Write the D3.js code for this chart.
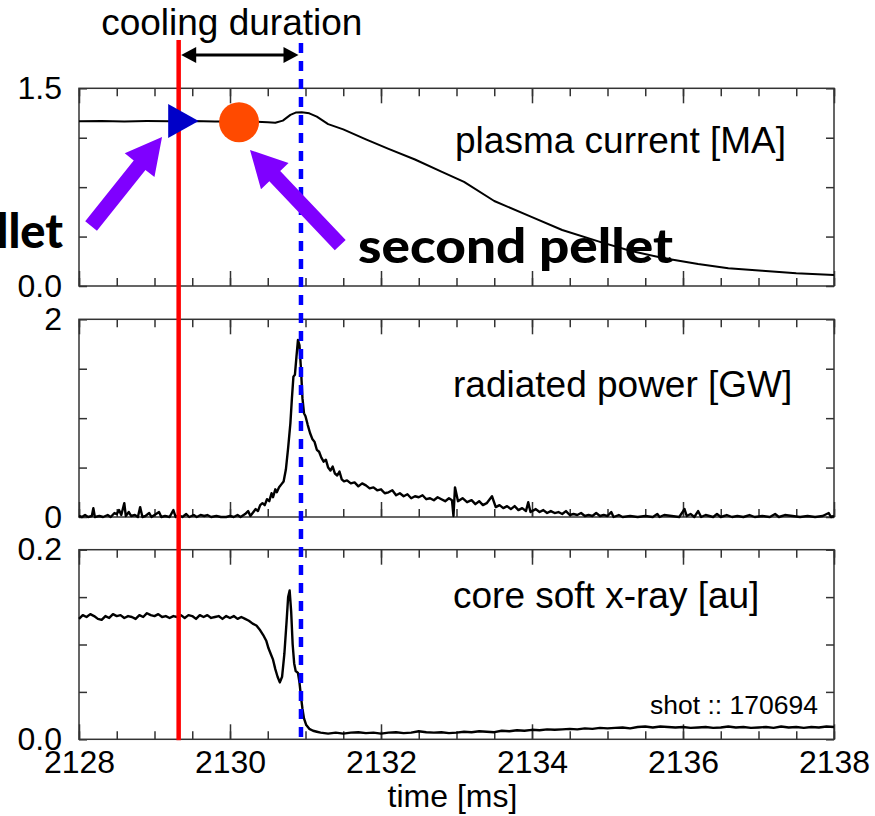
<!DOCTYPE html>
<html>
<head>
<meta charset="utf-8">
<script src="https://d3js.org/d3.v7.min.js"></script>
<style>
  body { margin: 0; background: #fff; }
  svg { display: block; }
</style>
</head>
<body>
<div id="my_dataviz"></div>
<script>

// time axis (ms)
var timeDomain = [2128, 2138];
var timeTicks = [2128, 2130, 2132, 2134, 2136, 2138];

// plasma current [MA], [time, value]
var plasmaCurrent = [
  [2128.0, 1.250], [2128.3, 1.252], [2128.6, 1.249], [2128.9, 1.251], [2129.2, 1.250],
  [2129.5, 1.252], [2129.8, 1.249], [2130.1, 1.248], [2130.35, 1.246], [2130.5, 1.242],
  [2130.6, 1.238], [2130.7, 1.255], [2130.8, 1.298], [2130.87, 1.316], [2130.95, 1.318],
  [2131.05, 1.310], [2131.15, 1.285], [2131.3, 1.228], [2131.5, 1.188], [2131.8, 1.112],
  [2132.1, 1.040], [2132.45, 0.960], [2132.8, 0.868], [2133.1, 0.790], [2133.5, 0.645],
  [2134.0, 0.522], [2134.4, 0.425], [2134.9, 0.335], [2135.3, 0.268], [2135.75, 0.210],
  [2136.2, 0.167], [2136.6, 0.134], [2137.05, 0.116], [2137.5, 0.097], [2138.0, 0.083]
];

// radiated power [GW]
var radiatedPower = [
  [2128.00, 0.01], [2128.04, 0.00], [2128.08, 0.02], [2128.12, 0.00], [2128.17, 0.01], [2128.19, 0.09],
  [2128.21, 0.00], [2128.27, 0.01], [2128.32, 0.00], [2128.38, 0.02], [2128.42, 0.00], [2128.47, 0.04],
  [2128.50, 0.03], [2128.53, 0.07], [2128.56, 0.02], [2128.60, 0.14], [2128.62, 0.01], [2128.66, 0.05],
  [2128.69, 0.01], [2128.74, 0.02], [2128.78, 0.00], [2128.81, 0.10], [2128.84, 0.00], [2128.88, 0.01],
  [2128.93, 0.04], [2128.96, 0.00], [2129.02, 0.03], [2129.06, 0.05], [2129.09, 0.00], [2129.14, 0.01],
  [2129.20, 0.00], [2129.25, 0.07], [2129.28, 0.00], [2129.32, 0.02], [2129.37, 0.00], [2129.42, 0.03],
  [2129.46, 0.00], [2129.52, 0.02], [2129.56, 0.00], [2129.61, 0.02], [2129.66, 0.01], [2129.70, 0.02],
  [2129.75, 0.00], [2129.82, 0.01], [2129.88, 0.00], [2129.95, 0.00], [2130.00, 0.01], [2130.05, 0.00],
  [2130.10, 0.02], [2130.14, 0.00], [2130.20, 0.03], [2130.24, 0.06], [2130.27, 0.01], [2130.30, 0.04],
  [2130.34, 0.08], [2130.37, 0.06], [2130.40, 0.12], [2130.43, 0.14], [2130.46, 0.12], [2130.49, 0.18],
  [2130.52, 0.16], [2130.55, 0.24], [2130.57, 0.20], [2130.60, 0.28], [2130.62, 0.25], [2130.65, 0.30],
  [2130.68, 0.33], [2130.71, 0.36], [2130.74, 0.48], [2130.77, 0.70], [2130.80, 0.95], [2130.82, 1.20],
  [2130.84, 1.42], [2130.86, 1.44], [2130.88, 1.62], [2130.90, 1.79], [2130.92, 1.74], [2130.94, 1.50],
  [2130.96, 1.20], [2130.98, 1.05], [2131.00, 1.02], [2131.03, 0.93], [2131.06, 0.85], [2131.09, 0.79],
  [2131.12, 0.76], [2131.15, 0.68], [2131.18, 0.66], [2131.21, 0.60], [2131.24, 0.56], [2131.27, 0.58],
  [2131.30, 0.50], [2131.33, 0.47], [2131.36, 0.51], [2131.39, 0.44], [2131.42, 0.42], [2131.45, 0.46],
  [2131.48, 0.38], [2131.51, 0.36], [2131.55, 0.37], [2131.60, 0.34], [2131.65, 0.35], [2131.70, 0.31],
  [2131.75, 0.34], [2131.80, 0.32], [2131.85, 0.29], [2131.90, 0.30], [2131.95, 0.27], [2132.00, 0.28],
  [2132.05, 0.24], [2132.10, 0.25], [2132.15, 0.27], [2132.20, 0.22], [2132.25, 0.24], [2132.30, 0.21],
  [2132.35, 0.23], [2132.40, 0.19], [2132.45, 0.21], [2132.50, 0.20], [2132.55, 0.22], [2132.60, 0.18],
  [2132.65, 0.19], [2132.70, 0.17], [2132.75, 0.20], [2132.80, 0.18], [2132.85, 0.16], [2132.90, 0.19],
  [2132.94, 0.17], [2132.96, 0.01], [2132.98, 0.30], [2133.02, 0.16], [2133.08, 0.19], [2133.14, 0.15],
  [2133.20, 0.17], [2133.25, 0.13], [2133.30, 0.16], [2133.35, 0.12], [2133.40, 0.14], [2133.47, 0.21],
  [2133.52, 0.10], [2133.57, 0.12], [2133.62, 0.09], [2133.67, 0.11], [2133.72, 0.08], [2133.77, 0.11],
  [2133.82, 0.07], [2133.87, 0.09], [2133.92, 0.06], [2133.95, 0.15], [2133.98, 0.05], [2134.05, 0.08],
  [2134.10, 0.05], [2134.15, 0.07], [2134.20, 0.04], [2134.25, 0.06], [2134.30, 0.04], [2134.35, 0.05],
  [2134.40, 0.03], [2134.45, 0.06], [2134.50, 0.02], [2134.55, 0.03], [2134.60, 0.02], [2134.65, 0.04],
  [2134.70, 0.01], [2134.75, 0.02], [2134.80, 0.01], [2134.85, 0.04], [2134.90, 0.01], [2134.95, 0.02],
  [2135.00, 0.01], [2135.05, 0.05], [2135.08, 0.00], [2135.15, 0.02], [2135.20, 0.00], [2135.30, 0.01],
  [2135.40, 0.00], [2135.50, 0.01], [2135.60, 0.00], [2135.66, 0.03], [2135.69, 0.00], [2135.75, 0.02],
  [2135.85, 0.01], [2135.95, 0.00], [2136.02, 0.08], [2136.05, 0.01], [2136.10, 0.03], [2136.15, 0.00],
  [2136.20, 0.06], [2136.24, 0.00], [2136.30, 0.02], [2136.40, 0.00], [2136.45, 0.03], [2136.50, 0.00],
  [2136.58, 0.02], [2136.65, 0.00], [2136.72, 0.01], [2136.80, 0.00], [2136.88, 0.02], [2136.95, 0.00],
  [2137.05, 0.01], [2137.15, 0.00], [2137.22, 0.03], [2137.27, 0.00], [2137.35, 0.02], [2137.45, 0.01],
  [2137.55, 0.00], [2137.65, 0.01], [2137.75, 0.00], [2137.85, 0.01], [2137.93, 0.04], [2137.96, 0.00],
  [2138.00, 0.01]
];

// core soft x-ray [au]
var softXray = [
  [2128.00, 0.127], [2128.05, 0.131], [2128.10, 0.129], [2128.15, 0.132], [2128.20, 0.130], [2128.25, 0.127],
  [2128.30, 0.126], [2128.35, 0.130], [2128.40, 0.128], [2128.45, 0.132], [2128.50, 0.130], [2128.55, 0.131],
  [2128.60, 0.128], [2128.65, 0.130], [2128.70, 0.129], [2128.75, 0.127], [2128.80, 0.131], [2128.85, 0.129],
  [2128.90, 0.133], [2128.95, 0.131], [2129.00, 0.130], [2129.05, 0.132], [2129.10, 0.129], [2129.15, 0.130],
  [2129.20, 0.128], [2129.25, 0.130], [2129.30, 0.129], [2129.35, 0.131], [2129.40, 0.128], [2129.45, 0.131],
  [2129.50, 0.130], [2129.55, 0.127], [2129.60, 0.131], [2129.65, 0.129], [2129.70, 0.131], [2129.75, 0.128],
  [2129.80, 0.129], [2129.85, 0.130], [2129.90, 0.127], [2129.95, 0.130], [2130.00, 0.128], [2130.05, 0.130],
  [2130.10, 0.127], [2130.15, 0.129], [2130.20, 0.127], [2130.25, 0.125], [2130.30, 0.122], [2130.35, 0.120],
  [2130.40, 0.115], [2130.44, 0.110], [2130.48, 0.104], [2130.51, 0.096], [2130.54, 0.090], [2130.57, 0.084],
  [2130.60, 0.074], [2130.63, 0.066], [2130.66, 0.060], [2130.69, 0.066], [2130.72, 0.090], [2130.75, 0.125],
  [2130.77, 0.150], [2130.79, 0.157], [2130.81, 0.135], [2130.83, 0.100], [2130.85, 0.080], [2130.87, 0.072],
  [2130.90, 0.070], [2130.92, 0.060], [2130.94, 0.045], [2130.96, 0.032], [2130.98, 0.022], [2131.01, 0.015],
  [2131.05, 0.011], [2131.10, 0.009], [2131.15, 0.008], [2131.20, 0.007], [2131.30, 0.006], [2131.40, 0.007],
  [2131.50, 0.006], [2131.60, 0.007], [2131.70, 0.0075], [2131.80, 0.0065], [2131.90, 0.007], [2132.00, 0.006],
  [2132.10, 0.007], [2132.20, 0.0075], [2132.30, 0.0065], [2132.40, 0.007], [2132.50, 0.0085], [2132.60, 0.0075],
  [2132.70, 0.007], [2132.80, 0.0075], [2132.90, 0.0065], [2133.00, 0.007], [2133.10, 0.008], [2133.20, 0.0075],
  [2133.30, 0.0085], [2133.40, 0.008], [2133.50, 0.0075], [2133.60, 0.009], [2133.70, 0.0085], [2133.80, 0.0095],
  [2133.90, 0.009], [2134.00, 0.010], [2134.10, 0.0095], [2134.20, 0.0105], [2134.30, 0.010], [2134.40, 0.0105],
  [2134.50, 0.011], [2134.60, 0.0105], [2134.70, 0.0115], [2134.80, 0.011], [2134.90, 0.012], [2135.00, 0.0115],
  [2135.10, 0.012], [2135.20, 0.0125], [2135.30, 0.0115], [2135.40, 0.013], [2135.50, 0.0135], [2135.60, 0.0125],
  [2135.70, 0.0135], [2135.80, 0.013], [2135.90, 0.0125], [2136.00, 0.013], [2136.10, 0.012], [2136.20, 0.0125],
  [2136.30, 0.013], [2136.40, 0.012], [2136.50, 0.0125], [2136.60, 0.0135], [2136.70, 0.0125], [2136.80, 0.013],
  [2136.90, 0.012], [2137.00, 0.0125], [2137.10, 0.013], [2137.20, 0.012], [2137.30, 0.0135], [2137.40, 0.0125],
  [2137.50, 0.013], [2137.60, 0.012], [2137.70, 0.013], [2137.80, 0.0125], [2137.90, 0.0135], [2138.00, 0.013]
];

// event times (ms) and marker values
var firstPelletTime = 2129.32;
var secondPelletTime = 2130.12;
var quenchTime = 2130.94;
var firstPelletCurrent = 1.252;
var secondPelletCurrent = 1.243;

// purple pointer arrows, in plasma current panel units [time, MA]
var pointerArrows = [
  { tail: [2128.16, 0.455], tip: [2129.10, 1.13] },
  { tail: [2131.46, 0.31], tip: [2130.265, 1.032] }
];

var width = 875, height = 816;
var left = 79, right = 834;
var font = "'Liberation Sans', Arial, Helvetica, sans-serif";

var svg = d3.select("#my_dataviz")
    .append("svg")
    .attr("width", width)
    .attr("height", height);

var x = d3.scaleLinear().domain(timeDomain).range([left, right]);

var panels = [
    { name: "plasma current [MA]", data: plasmaCurrent, max: 1.5, top: 88.3, bottom: 286, fmt: d3.format(".1f"), labelX: 455, labelY: 153, lw: 2 },
    { name: "radiated power [GW]", data: radiatedPower, max: 2, top: 319.3, bottom: 517, fmt: d3.format("d"), labelX: 453, labelY: 397, lw: 2.4 },
    { name: "core soft x-ray [au]", data: softXray, max: 0.2, top: 549.7, bottom: 739.3, fmt: d3.format(".1f"), labelX: 453, labelY: 608, lw: 2.4 }
];

var minorTimes = d3.range(2128, 2138.01, 0.5);

panels.forEach(function (p, i) {
    var y = d3.scaleLinear().domain([0, p.max]).range([p.bottom, p.top]);
    p.y = y;
    var g = svg.append("g");
    var yTicks = d3.range(0, 5).map(function (k) { return k * p.max / 4; });

    // tick marks, inward on all four sides
    function tickAxis(axis, transform) {
        var a = g.append("g").attr("transform", transform).call(axis);
        a.select(".domain").remove();
        a.selectAll("text").remove();
        a.selectAll("line").attr("stroke", "#333").attr("stroke-width", 1.5);
    }
    tickAxis(d3.axisBottom(x).tickValues(minorTimes).tickSize(-8), "translate(0," + p.bottom + ")");
    tickAxis(d3.axisBottom(x).tickValues(timeTicks).tickSize(-15), "translate(0," + p.bottom + ")");
    tickAxis(d3.axisTop(x).tickValues(minorTimes).tickSize(-8), "translate(0," + p.top + ")");
    tickAxis(d3.axisTop(x).tickValues(timeTicks).tickSize(-15), "translate(0," + p.top + ")");
    tickAxis(d3.axisLeft(y).tickValues(yTicks).tickSize(-8), "translate(" + left + ",0)");
    tickAxis(d3.axisRight(y).tickValues(yTicks).tickSize(-8), "translate(" + right + ",0)");

    // frame
    g.append("rect")
        .attr("x", left).attr("y", p.top)
        .attr("width", right - left).attr("height", p.bottom - p.top)
        .attr("fill", "none").attr("stroke", "#333").attr("stroke-width", 1.5);

    // y labels at the ends only
    var yl = g.append("g")
        .attr("transform", "translate(" + left + ",0)")
        .call(d3.axisLeft(y).tickValues([0, p.max]).tickSize(0).tickPadding(17).tickFormat(p.fmt));
    yl.select(".domain").remove();
    yl.selectAll("text")
        .attr("fill", "#000")
        .style("font-family", font)
        .style("font-size", "32px");

    // signal
    var line = d3.line()
        .x(function (d) { return x(d[0]); })
        .y(function (d) { return y(d[1]); });
    g.append("path")
        .datum(p.data)
        .attr("d", line)
        .attr("fill", "none")
        .attr("stroke", "#000")
        .attr("stroke-width", p.lw)
        .attr("stroke-linejoin", "round");

    g.append("text")
        .attr("x", p.labelX).attr("y", p.labelY)
        .text(p.name)
        .style("font-family", font)
        .style("font-size", "37px");
});

// time labels under bottom panel
var bottomPanel = panels[2];
var xl = svg.append("g")
    .attr("transform", "translate(0," + bottomPanel.bottom + ")")
    .call(d3.axisBottom(x).tickValues(timeTicks).tickSize(0).tickPadding(10).tickFormat(d3.format("d")));
xl.select(".domain").remove();
xl.selectAll("text")
    .attr("fill", "#000")
    .attr("dy", "0")
    .attr("y", 34)
    .style("font-family", font)
    .style("font-size", "32px");

svg.append("text")
    .attr("x", (left + right) / 2 - 4).attr("y", 807)
    .attr("text-anchor", "middle")
    .text("time [ms]")
    .style("font-family", font)
    .style("font-size", "32px");

svg.append("text")
    .attr("x", 818).attr("y", 714)
    .attr("text-anchor", "end")
    .text("shot :: 170694")
    .style("font-family", font)
    .style("font-size", "26.5px");

// event lines
var top0 = panels[0];
svg.append("line")
    .attr("x1", x(firstPelletTime)).attr("x2", x(firstPelletTime))
    .attr("y1", 40).attr("y2", bottomPanel.bottom + 1)
    .attr("stroke", "#ff0000").attr("stroke-width", 4.5);

svg.append("line")
    .attr("x1", x(quenchTime)).attr("x2", x(quenchTime))
    .attr("y1", 43).attr("y2", bottomPanel.bottom + 1)
    .attr("stroke", "#0000ff").attr("stroke-width", 4.5)
    .attr("stroke-dasharray", "10,8");

// cooling duration arrow
var cy = 55;
var ax0 = x(firstPelletTime) + 2.5, ax1 = x(quenchTime) - 2.5;
svg.append("line")
    .attr("x1", ax0 + 10).attr("x2", ax1 - 10)
    .attr("y1", cy).attr("y2", cy)
    .attr("stroke", "#000").attr("stroke-width", 3);
svg.append("path")
    .attr("d", "M" + ax0 + "," + cy + "L" + (ax0 + 15) + "," + (cy - 8) + "L" + (ax0 + 15) + "," + (cy + 8) + "Z")
    .attr("fill", "#000");
svg.append("path")
    .attr("d", "M" + ax1 + "," + cy + "L" + (ax1 - 15) + "," + (cy - 8) + "L" + (ax1 - 15) + "," + (cy + 8) + "Z")
    .attr("fill", "#000");

svg.append("text")
    .attr("x", (ax0 + ax1) / 2 - 8).attr("y", 35)
    .attr("text-anchor", "middle")
    .text("cooling duration")
    .style("font-family", font)
    .style("font-size", "37px");

// pellet markers
var tx = x(firstPelletTime), ty = top0.y(firstPelletCurrent);
svg.append("path")
    .attr("d", "M" + (tx - 10.5) + "," + (ty - 17) + "L" + (tx + 20) + "," + ty + "L" + (tx - 10.5) + "," + (ty + 17) + "Z")
    .attr("fill", "#0000c8");

svg.append("circle")
    .attr("cx", x(secondPelletTime))
    .attr("cy", top0.y(secondPelletCurrent))
    .attr("r", 20)
    .attr("fill", "#ff4a00");

// purple pointers
function arrowPath(a) {
    var x0 = x(a.tail[0]), y0 = top0.y(a.tail[1]);
    var x1 = x(a.tip[0]), y1 = top0.y(a.tip[1]);
    var dx = x1 - x0, dy = y1 - y0, len = Math.sqrt(dx * dx + dy * dy);
    var ux = dx / len, uy = dy / len, nx = -uy, ny = ux;
    var w = 7.5, hw = 19, hl = 36;
    var bx = x1 - ux * hl, by = y1 - uy * hl;
    var pts = [
        [x0 + nx * w, y0 + ny * w],
        [bx + nx * w, by + ny * w],
        [bx + nx * hw, by + ny * hw],
        [x1, y1],
        [bx - nx * hw, by - ny * hw],
        [bx - nx * w, by - ny * w],
        [x0 - nx * w, y0 - ny * w]
    ];
    return "M" + pts.map(function (q) { return q[0] + "," + q[1]; }).join("L") + "Z";
}
svg.selectAll("myArrows")
    .data(pointerArrows)
    .enter()
    .append("path")
    .attr("d", arrowPath)
    .attr("fill", "#7f00ff");

var boldFont = "Lato, 'Noto Sans', sans-serif";
svg.append("text")
    .attr("x", 63).attr("y", 248)
    .attr("text-anchor", "end")
    .text("first pellet")
    .style("font-family", boldFont)
    .style("font-weight", "900")
    .style("font-size", "47px");

svg.append("text")
    .attr("x", 358).attr("y", 263)
    .attr("textLength", 315)
    .attr("lengthAdjust", "spacingAndGlyphs")
    .text("second pellet")
    .style("font-family", boldFont)
    .style("font-weight", "900")
    .style("font-size", "47px");

</script>
</body>
</html>
